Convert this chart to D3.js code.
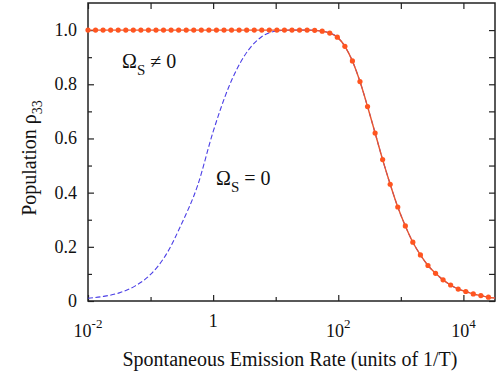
<!DOCTYPE html>
<html>
<head>
<meta charset="utf-8">
<script src="https://cdn.jsdelivr.net/npm/d3@7"></script>
<style>
body { margin: 0; background: #fff; }
text { font-family: "Liberation Serif", "Times New Roman", serif; fill: #111; }
</style>
</head>
<body>
<div id="chart"></div>
<script>
// log10 of the emission rate for each sample (dots on the red curve)
var rateExp = [-2.000, -1.879, -1.759, -1.638, -1.517, -1.396, -1.276, -1.155, -1.034, -0.913,
    -0.793, -0.672, -0.551, -0.430, -0.310, -0.189, -0.068, 0.053, 0.174, 0.294,
    0.415, 0.536, 0.657, 0.777, 0.898, 1.019, 1.140, 1.260, 1.381, 1.502,
    1.623, 1.743, 1.864, 1.985, 2.106, 2.226, 2.347, 2.468, 2.589, 2.709,
    2.830, 2.951, 3.072, 3.192, 3.313, 3.434, 3.555, 3.675, 3.796, 3.917,
    4.038, 4.158, 4.279, 4.400];
// population rho33 with Omega_S != 0
var popOmegaOn = [1, 1, 1, 1, 1, 1, 1, 1, 1, 1,
    1, 1, 1, 1, 1, 1, 1, 1, 1, 1,
    1, 1, 1, 1, 1, 1, 1, 1, 1, 1,
    0.999, 0.996, 0.989, 0.974, 0.940, 0.886, 0.810, 0.718, 0.620, 0.522,
    0.431, 0.347, 0.277, 0.217, 0.170, 0.131, 0.102, 0.078, 0.059, 0.044,
    0.035, 0.026, 0.020, 0.014];
// tail of the solid line past the last dot
var tailExp = [4.507];
var tailPop = [0.011];

// Omega_S = 0 (blue dashed), joins the red curve at high rates
var offExp = [-2, -1.75, -1.5, -1.25, -1, -0.75, -0.5, -0.25, 0, 0.25, 0.5, 0.75, 1.0, 1.25, 1.502,
    1.623, 1.743, 1.864, 1.985, 2.106, 2.226, 2.347, 2.468, 2.589, 2.709,
    2.830, 2.951, 3.072, 3.192, 3.313, 3.434, 3.555, 3.675, 3.796, 3.917,
    4.038, 4.158, 4.279, 4.400, 4.507];
var popOmegaOff = [0.010, 0.017, 0.030, 0.055, 0.098, 0.172, 0.287, 0.425, 0.625, 0.790, 0.905, 0.971, 0.996, 1.0, 1.0,
    0.999, 0.996, 0.989, 0.974, 0.940, 0.886, 0.810, 0.718, 0.620, 0.522,
    0.431, 0.347, 0.277, 0.217, 0.170, 0.131, 0.102, 0.078, 0.059, 0.044,
    0.035, 0.026, 0.020, 0.014, 0.011];

var yTicks = [0, 0.2, 0.4, 0.6, 0.8, 1.0];
var yMinor = [0.1, 0.3, 0.5, 0.7, 0.9];
var xTicks = [-2, 0, 2, 4];
var xMinor = [-1, 1, 3];

var width = 496, height = 377;
var margin = {left: 88, right: 1, top: 3, bottom: 76};

var svg = d3.select("#chart")
    .append("svg")
    .attr("width", width)
    .attr("height", height);

var x = d3.scaleLog()
    .domain([0.01, 32000])
    .range([margin.left, width - margin.right]);

var y = d3.scaleLinear()
    .domain([0, 1.1])
    .range([height - margin.bottom, margin.top]);

var allDecades = xTicks.concat(xMinor).map((e) => Math.pow(10, e));

// bottom axis
svg.append("g")
    .attr("transform", "translate(0," + y(0) + ")")
    .call(d3.axisBottom(x).tickValues(xTicks.map((e) => Math.pow(10, e))).tickSize(-6).tickFormat(""));
svg.append("g")
    .attr("transform", "translate(0," + y(0) + ")")
    .call(d3.axisBottom(x).tickValues(xMinor.map((e) => Math.pow(10, e))).tickSize(-4).tickFormat(""));
// top axis
svg.append("g")
    .attr("transform", "translate(0," + y(1.1) + ")")
    .call(d3.axisTop(x).tickValues(allDecades).tickSize(-6).tickFormat(""));
// left axis
svg.append("g")
    .attr("transform", "translate(" + x(0.01) + ",0)")
    .call(d3.axisLeft(y).tickValues(yTicks).tickSize(-6).tickFormat(""));
svg.append("g")
    .attr("transform", "translate(" + x(0.01) + ",0)")
    .call(d3.axisLeft(y).tickValues(yMinor).tickSize(-4).tickFormat(""));
// right axis
svg.append("g")
    .attr("transform", "translate(" + x(32000) + ",0)")
    .call(d3.axisRight(y).tickValues(yTicks.concat(yMinor)).tickSize(-6).tickFormat(""));

svg.selectAll(".domain").remove();
svg.selectAll(".tick line").style("stroke", "#222").style("stroke-width", 1.2);

// frame
svg.append("rect")
    .attr("x", x(0.01))
    .attr("y", y(1.1))
    .attr("width", x(32000) - x(0.01))
    .attr("height", y(0) - y(1.1))
    .style("fill", "none")
    .style("stroke", "#222")
    .style("stroke-width", 1.5);

// y tick labels
svg.selectAll(".ylab")
    .data(yTicks)
    .enter().append("text")
    .attr("x", x(0.01) - 11)
    .attr("y", (d) => y(d) + 6)
    .attr("text-anchor", "end")
    .style("font-size", "18px")
    .text((d) => d == 0 ? "0" : d.toFixed(1));

// x tick labels
xTicks.forEach((e) => {
    var t = svg.append("text")
        .attr("x", x(Math.pow(10, e)))
        .attr("text-anchor", "middle")
        .style("font-size", "18px");
    if (e == 0) {
        t.attr("y", 327).text("1");
    } else {
        t.attr("y", 337);
        t.append("tspan").text("10");
        t.append("tspan").attr("dy", -9).style("font-size", "13px").text(e);
    }
});

// curves
var clip = svg.append("clipPath").attr("id", "clip")
    .append("rect")
    .attr("x", x(0.01)).attr("y", y(1.1))
    .attr("width", x(32000) - x(0.01)).attr("height", y(0) - y(1.1));

var offData = offExp.map((e, i) => [Math.pow(10, e), popOmegaOff[i]]);
var onData = rateExp.map((e, i) => [Math.pow(10, e), popOmegaOn[i]]);
var onLine = onData.concat(tailExp.map((e, i) => [Math.pow(10, e), tailPop[i]]));

var line = d3.line()
    .x((d) => x(d[0]))
    .y((d) => y(d[1]))
    .curve(d3.curveMonotoneX);

svg.append("path")
    .datum(offData)
    .attr("clip-path", "url(#clip)")
    .attr("d", line)
    .style("fill", "none")
    .style("stroke", "#4b3fe6")
    .style("stroke-width", 1.1)
    .style("stroke-dasharray", "5,2.5");

svg.append("path")
    .datum(onLine)
    .attr("clip-path", "url(#clip)")
    .attr("d", line)
    .style("fill", "none")
    .style("stroke", "#e8552e")
    .style("stroke-width", 1.4);

svg.append("g")
    .selectAll("circle")
    .data(onData)
    .enter().append("circle")
    .attr("cx", (d) => x(d[0]))
    .attr("cy", (d) => y(d[1]))
    .attr("r", 2.6)
    .style("fill", "#ff5520");

// annotations
function omegaLabel(px, py, rest) {
    var t = svg.append("text")
        .attr("x", px)
        .attr("y", py)
        .style("font-size", "20px");
    t.append("tspan").text("\u03A9");
    t.append("tspan").attr("dy", 7).style("font-size", "15px").text("S");
    t.append("tspan").attr("dy", -7).text(rest);
}
omegaLabel(122, 68, " \u2260 0");
omegaLabel(216, 185, " = 0");

// axis titles
svg.append("text")
    .attr("x", 290)
    .attr("y", 366)
    .attr("text-anchor", "middle")
    .style("font-size", "20px")
    .text("Spontaneous Emission Rate (units of 1/T)");

var yl = svg.append("text")
    .attr("transform", "translate(36,158) rotate(-90)")
    .attr("text-anchor", "middle")
    .style("font-size", "20px");
yl.append("tspan").text("Population \u03C1");
yl.append("tspan").attr("dy", 6).style("font-size", "14px").text("33");
</script>
</body>
</html>
